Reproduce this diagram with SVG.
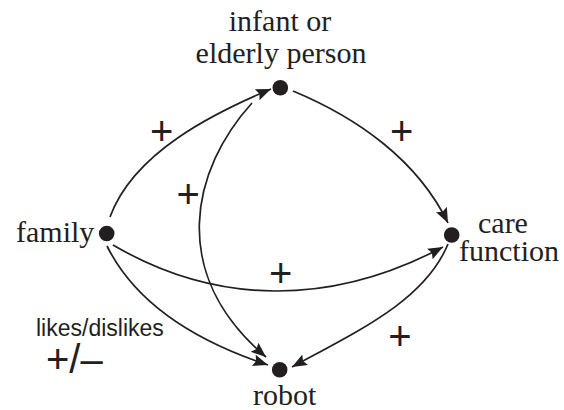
<svg xmlns="http://www.w3.org/2000/svg" width="564" height="410" viewBox="0 0 564 410">
<style>
.lbl{font-family:'Liberation Serif','Times New Roman',serif;font-size:30px;fill:#231f20}
.sgn{font-family:'Liberation Sans',Arial,sans-serif;font-size:40px;fill:#231f20;text-anchor:middle}
.sml{font-family:'Liberation Sans',Arial,sans-serif;font-size:23px;fill:#231f20}
.dot{fill:#231f20}
.edge{fill:none;stroke:#231f20;stroke-width:1.7}
</style>
<defs>
<marker id="arr" markerUnits="userSpaceOnUse" markerWidth="18" markerHeight="14" refX="15" refY="6" orient="auto">
<path d="M0,0 L15,6 L0,12 L2.5,6 z" fill="#231f20"/>
</marker>
</defs>
<rect width="564" height="410" fill="#fff"/>
<g id="connectors">
<path class="edge" marker-end="url(#arr)" d="M110,217 C133.7,151.8 215.8,112.2 271,89"/>
<path class="edge" marker-end="url(#arr)" d="M252,103 C192,169 167,273 266,357"/>
<path class="edge" marker-end="url(#arr)" d="M293,91 C357,117.6 417.3,159.8 448,223"/>
<path class="edge" marker-end="url(#arr)" d="M113,245 C217,306 332,306 443,247"/>
<path class="edge" marker-end="url(#arr)" d="M448,244 C425,300 360,330 292,367"/>
<path class="edge" marker-end="url(#arr)" d="M107,246 C138.5,309.4 204.4,344 268,365"/>
<text class="sgn" x="161.7" y="145">+</text>
<text class="sgn" x="188.3" y="207.5">+</text>
<text class="sgn" x="401.7" y="144.5">+</text>
<text class="sgn" x="280.7" y="286.5">+</text>
<text class="sgn" x="400" y="349.5">+</text>
<text class="sml" x="36" y="336">likes/dislikes</text>
<text class="sgn" x="46" y="373" style="text-anchor:start">+/–</text>
</g>
<g id="infant">
<circle class="dot" cx="280.3" cy="87.7" r="7.8"/>
<text class="lbl" x="280" y="31" text-anchor="middle">infant or</text>
<text class="lbl" x="281" y="63" text-anchor="middle">elderly person</text>
</g>
<g id="family">
<circle class="dot" cx="106.7" cy="233.5" r="7.8"/>
<text class="lbl" x="16" y="242">family</text>
</g>
<g id="care">
<circle class="dot" cx="451.7" cy="235" r="7.8"/>
<text class="lbl" x="478" y="233">care</text>
<text class="lbl" x="459" y="261">function</text>
</g>
<g id="robot">
<circle class="dot" cx="279.7" cy="369.7" r="7.8"/>
<text class="lbl" x="253" y="405">robot</text>
</g>
</svg>
